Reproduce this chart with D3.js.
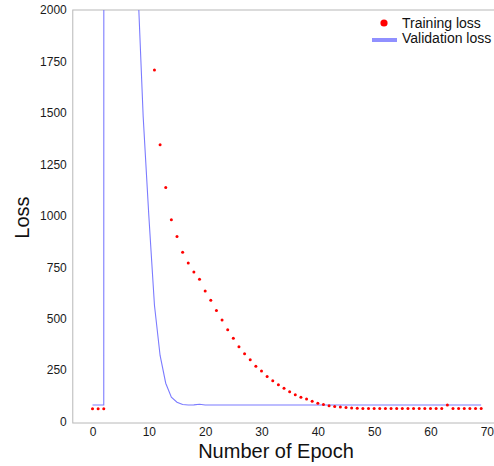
<!DOCTYPE html>
<html lang="en">
<head>
    <meta charset="UTF-8">
    <title>Loss per Epoch</title>
    <script src="https://d3js.org/d3.v7.min.js"></script>
    <style>
        html, body { margin: 0; padding: 0; background: #fff; }
        svg { display: block; font-family: "Liberation Sans", Arial, sans-serif; }
    </style>
</head>
<body>
    <svg width="494" height="466"></svg>

    <script>
        // Epochs 0..69
        const epochs = d3.range(0, 70);

        // Training loss (3..10 are above the 2000 limit)
        const trainingLoss = [
            62, 62, 62, 40000, 18000, 9500, 6000, 4300, 3400, 2700,
            2150, 1708, 1345, 1137, 980, 899, 823, 770, 727, 691,
            634, 589, 539, 493, 446, 405, 363, 329, 300, 268,
            245, 219, 198, 179, 162, 145, 130, 118, 109, 99,
            89, 83, 76, 73, 70, 68, 66, 65, 63, 63,
            63, 63, 63, 63, 63, 63, 63, 63, 63, 63,
            63, 63, 63, 80, 63, 63, 63, 63, 63, 63
        ];

        // Validation loss (3..7 are far above the chart)
        const validationLoss = [
            80, 80, 80, 200000, 90000, 40000, 15000, 5000, 2150, 1480,
            1000, 565, 321, 186, 118, 94, 83, 80, 81, 84,
            80, 80, 80, 80, 80, 80, 80, 80, 80, 80,
            80, 80, 80, 80, 80, 80, 80, 80, 80, 80,
            80, 80, 80, 80, 80, 80, 80, 80, 80, 80,
            80, 80, 80, 80, 80, 80, 80, 80, 80, 80,
            80, 80, 80, 80, 80, 80, 80, 80, 80, 80
        ];

        const xTicks = [0, 10, 20, 30, 40, 50, 60, 70];
        const yTicks = [0, 250, 500, 750, 1000, 1250, 1500, 1750, 2000];

        const svg = d3.select("svg");

        // Scales
        const xScale = d3.scaleLinear().domain([0, 70]).range([92.5, 486.8]);
        const yScale = d3.scaleLinear().domain([0, 2000]).range([421.5, 10]);

        const plotLeft = xScale(-3.5), plotRight = xScale(72.5);
        const plotTop = yScale(2000), plotBottom = 423;

        svg.append("clipPath").attr("id", "plot-clip")
            .append("rect")
            .attr("x", plotLeft).attr("y", plotTop)
            .attr("width", plotRight - plotLeft).attr("height", plotBottom - plotTop);

        // Frame
        svg.append("rect")
            .attr("x", plotLeft).attr("y", plotTop)
            .attr("width", plotRight - plotLeft).attr("height", plotBottom - plotTop)
            .attr("fill", "none")
            .attr("stroke", "#b8b8b8")
            .attr("stroke-width", 1);

        // Axes
        const xAxis = svg.append("g")
            .attr("transform", `translate(0,${plotBottom})`)
            .call(d3.axisBottom(xScale).tickValues(xTicks).tickSize(0).tickPadding(4));
        xAxis.select(".domain").remove();
        xAxis.selectAll("text")
            .style("font-size", "12px")
            .style("font-family", "Liberation Sans, Arial, sans-serif")
            .style("fill", "#1a1a1a");

        const yAxis = svg.append("g")
            .attr("transform", `translate(${plotLeft},0)`)
            .call(d3.axisLeft(yScale).tickValues(yTicks).tickFormat(d3.format("d"))
                .tickSize(0).tickPadding(6));
        yAxis.select(".domain").remove();
        yAxis.selectAll("text")
            .style("font-size", "12px")
            .style("font-family", "Liberation Sans, Arial, sans-serif")
            .style("fill", "#1a1a1a");

        // Axis titles
        svg.append("text")
            .attr("x", 276)
            .attr("y", 458)
            .attr("text-anchor", "middle")
            .style("font-size", "20px")
            .style("fill", "#111")
            .text("Number of Epoch");

        svg.append("text")
            .attr("transform", "translate(29,217.5) rotate(-90)")
            .attr("text-anchor", "middle")
            .style("font-size", "20px")
            .style("fill", "#111")
            .text("Loss");

        const plot = svg.append("g").attr("clip-path", "url(#plot-clip)");

        // Validation loss line
        const line = d3.line()
            .x((d, i) => xScale(epochs[i]))
            .y(d => yScale(d));

        plot.append("path")
            .datum(validationLoss)
            .attr("d", line)
            .attr("fill", "none")
            .attr("stroke", "#7b7bff")
            .attr("stroke-width", 1.1);

        // Training loss dots
        plot.selectAll("circle.train")
            .data(trainingLoss)
            .join("circle")
            .attr("class", "train")
            .attr("cx", (d, i) => xScale(epochs[i]))
            .attr("cy", d => yScale(d))
            .attr("r", 1.5)
            .attr("fill", "#ff0000");

        // Legend
        const legend = svg.append("g");
        legend.append("circle")
            .attr("cx", 384).attr("cy", 23).attr("r", 3.6)
            .attr("fill", "#ff0000");
        legend.append("text")
            .attr("x", 402).attr("y", 27.5)
            .style("font-size", "14px").style("fill", "#111")
            .text("Training loss");
        legend.append("line")
            .attr("x1", 372).attr("x2", 397)
            .attr("y1", 40).attr("y2", 40)
            .attr("stroke", "#9090ff")
            .attr("stroke-width", 4);
        legend.append("text")
            .attr("x", 402).attr("y", 42.5)
            .style("font-size", "14px").style("fill", "#111")
            .text("Validation loss");
    </script>
</body>
</html>
